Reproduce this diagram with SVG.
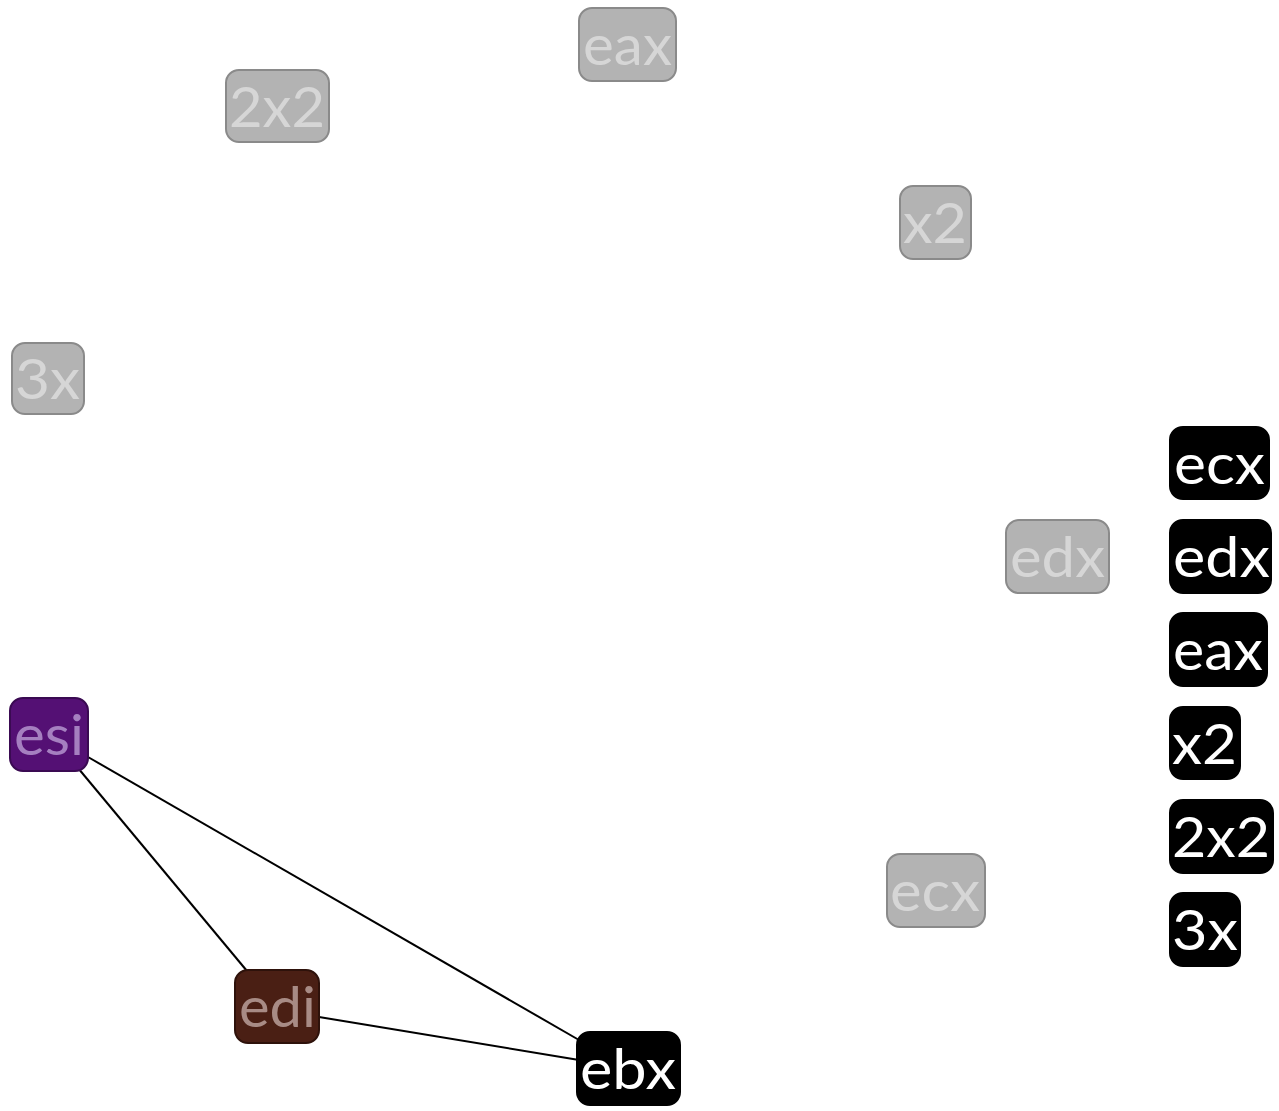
<svg xmlns="http://www.w3.org/2000/svg" width="1279" height="1111" viewBox="0 0 1279 1111">
<style>
rect{rx:13px;ry:13px;stroke-width:2}
.g rect{fill:#b3b3b3;stroke:#8a8a8a}
.g text{fill:#d6d6d6}
.k rect{fill:#000;stroke:#000}
.k text{fill:#fff}
text{font-family:Lato,"Open Sans","Liberation Sans",sans-serif;font-size:56px}
#edges line{stroke:#000;stroke-width:2}
</style>
<rect x="0" y="0" width="1279" height="1111" fill="#fff" style="stroke:none;rx:0;ry:0"/>
<g id="edges">
<line x1="78" y1="768" x2="247" y2="971"/>
<line x1="88" y1="757" x2="579" y2="1040"/>
<line x1="319" y1="1017" x2="579" y2="1060"/>
</g>
<g id="n_eax" class="g"><rect x="579" y="8" width="97" height="73"/><text x="583" y="65" textLength="89" lengthAdjust="spacingAndGlyphs">eax</text></g>
<g id="n_2x2" class="g"><rect x="226" y="70" width="103" height="72"/><text x="229" y="127" textLength="96" lengthAdjust="spacingAndGlyphs">2x2</text></g>
<g id="n_x2" class="g"><rect x="900" y="186" width="71" height="73"/><text x="903" y="243" textLength="64" lengthAdjust="spacingAndGlyphs">x2</text></g>
<g id="n_3x" class="g"><rect x="12" y="343" width="72" height="71"/><text x="15" y="399" textLength="65" lengthAdjust="spacingAndGlyphs">3x</text></g>
<g id="n_edx" class="g"><rect x="1006" y="520" width="103" height="73"/><text x="1010" y="577" textLength="95" lengthAdjust="spacingAndGlyphs">edx</text></g>
<g id="n_ecx" class="g"><rect x="887" y="854" width="98" height="73"/><text x="890" y="911" textLength="90" lengthAdjust="spacingAndGlyphs">ecx</text></g>
<g id="n_esi"><rect x="10" y="698" width="78" height="73" style="fill:#541074;stroke:#3a0a52"/><text x="14" y="755" fill="#a57fc0" textLength="70" lengthAdjust="spacingAndGlyphs">esi</text></g>
<g id="n_edi"><rect x="235" y="970" width="84" height="73" style="fill:#4a1f14;stroke:#2e120b"/><text x="239" y="1027" fill="#a88b85" textLength="77" lengthAdjust="spacingAndGlyphs">edi</text></g>
<g id="n_ebx" class="k"><rect x="577" y="1032" width="103" height="73"/><text x="580" y="1089" textLength="96" lengthAdjust="spacingAndGlyphs">ebx</text></g>
<g id="legend">
<g id="l_ecx" class="k"><rect x="1170" y="427" width="99" height="72"/><text x="1174" y="484" textLength="91" lengthAdjust="spacingAndGlyphs">ecx</text></g>
<g id="l_edx" class="k"><rect x="1170" y="520" width="101" height="73"/><text x="1173" y="577" textLength="97" lengthAdjust="spacingAndGlyphs">edx</text></g>
<g id="l_eax" class="k"><rect x="1170" y="613" width="97" height="73"/><text x="1173" y="670" textLength="90" lengthAdjust="spacingAndGlyphs">eax</text></g>
<g id="l_x2" class="k"><rect x="1170" y="707" width="70" height="72"/><text x="1172" y="764" textLength="65" lengthAdjust="spacingAndGlyphs">x2</text></g>
<g id="l_2x2" class="k"><rect x="1170" y="800" width="103" height="73"/><text x="1172" y="857" textLength="98" lengthAdjust="spacingAndGlyphs">2x2</text></g>
<g id="l_3x" class="k"><rect x="1170" y="893" width="70" height="73"/><text x="1172" y="950" textLength="66" lengthAdjust="spacingAndGlyphs">3x</text></g>
</g>
</svg>
